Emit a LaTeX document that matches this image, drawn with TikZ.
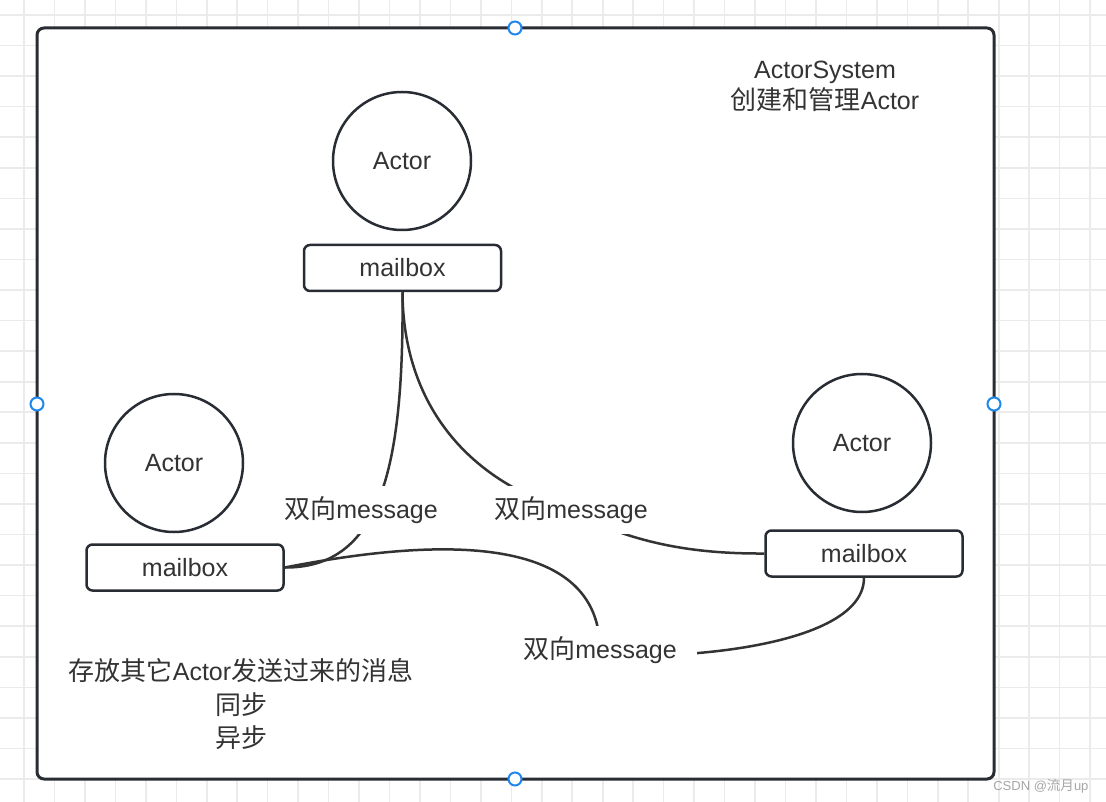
\documentclass[tikz,border=0pt]{standalone}
\usepackage{fontspec}
\setmainfont{Liberation Sans}
\newfontfamily\cjk[Scale=1.04]{Noto Sans CJK SC}
\usepackage{xcolor}
\usepackage{tikz}

\definecolor{inkdark}{HTML}{282C33}
\definecolor{textgray}{HTML}{333333}
\definecolor{gridgray}{HTML}{EBEBEB}
\definecolor{handleblue}{HTML}{1F87EE}

\begin{document}
\begin{tikzpicture}[x=1pt, y=-1pt,
    font=\fontsize{25}{31}\selectfont, text=textgray,
    actor/.style={draw=inkdark, line width=2.5pt, circle, minimum size=138pt, inner sep=0pt},
    mailbox/.style={draw=inkdark, line width=2.5pt, rectangle, rounded corners=6pt,
                    minimum width=197pt, minimum height=46pt, inner sep=0pt},
    msg/.style={fill=white, inner xsep=20pt, inner ysep=12pt, text height=20pt, text depth=4pt},
    link/.style={draw=textgray, line width=2.5pt},
    handle/.style={draw=handleblue, fill=white, line width=2pt, circle, minimum size=13pt, inner sep=0pt},
    gridline/.style={draw=gridgray, line width=1.6pt}]
                \useasboundingbox[fill=white] (0,0) rectangle (1106,802);

                % Background grid
                \foreach \gx in {0,...,35}
                    \draw[gridline] ({24+\gx*30.46},0) -- ++(0,802);
                \foreach \gy in {0,...,25}
                    \draw[gridline] (0,{15+\gy*30.56}) -- ++(1106,0);

                % ActorSystem frame
                \draw[inkdark, line width=3pt, fill=white, rounded corners=7pt] (37,28) rectangle (994,779);
                \node[align=center] (system) at (825,86) {ActorSystem\\{\cjk 创建和管理}Actor};

                % Actors
                \node[actor] (actTop) at (402,161) {Actor};
                \node[actor] (actLeft) at (174,463) {Actor};
                \node[actor] (actRight) at (862,443) {Actor};

                % Mailboxes
                \node[mailbox] (mbTop) at (402.5,268) {mailbox};
                \node[mailbox] (mbLeft) at (185,567.5) {mailbox};
                \node[mailbox] (mbRight) at (864,553.5) {mailbox};

                % Label positions
                \coordinate (midA) at (361,510);
                \coordinate (midB) at (566,510);
                \coordinate (midC) at (600,650);

                % Message links
                \draw[link] (mbTop.south) .. controls (404,470) and (380,568) .. (mbLeft.east);
                \draw[link] (mbTop.south) .. controls (403,395) and (458,476) .. (midB)
                                          .. controls (626,539) and (680,554) .. (mbRight.west);
                \draw[link] (mbLeft.east) .. controls (400,545) and (600,520) .. (midC)
                                          .. controls (600,662) and (864,660) .. (mbRight.south);

                % Link labels
                \node[msg] (msgA) at (midA) {{\cjk 双向}message};
                \node[msg] (msgB) at (571,510) {{\cjk 双向}message};
                \node[msg] (msgC) at (midC) {{\cjk 双向}message};

                % Note on mailbox
                \node[align=center, font=\fontsize{25}{33.5}\selectfont] (note) at (241,704.5)
                    {{\cjk 存放其它}Actor{\cjk 发送过来的消息}\\{\cjk 同步}\\{\cjk 异步}};

                % Selection handles
                \node[handle] (hTop) at (515,28) {};
                \node[handle] (hBottom) at (515,779) {};
                \node[handle] (hLeft) at (37,404) {};
                \node[handle] (hRight) at (994,404) {};

                % Watermark
                \node[anchor=east, text=gray!70, font=\fontsize{13}{15}\selectfont] (mark) at (1092,786) {CSDN @{\cjk 流月}up};
            \end{tikzpicture}
\end{document}
